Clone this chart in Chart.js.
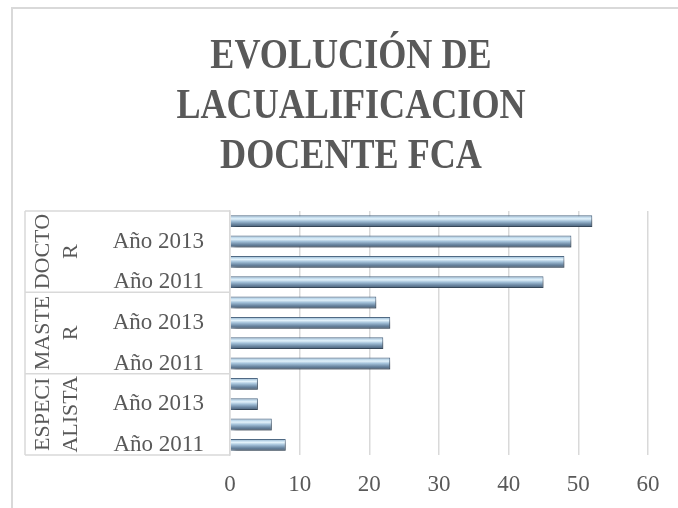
<!DOCTYPE html>
<html>
<head>
<meta charset="utf-8">
<script src="https://cdn.jsdelivr.net/npm/chart.js@4"></script>
<style>
html, body { margin: 0; padding: 0; overflow: hidden; background: #fff; }
#frame { position: absolute; left: 11px; top: 7px; width: 700px; height: 540px; border-left: 2px solid #d9d9d9; border-top: 2px solid #d9d9d9; }
#wrap { position: absolute; left: 0; top: 0; width: 678px; height: 508px; }
</style>
</head>
<body>
<div id="frame"></div>
<div id="wrap"><canvas id="chart1"></canvas></div>
<script>
var titulo = ['EVOLUCIÓN DE', 'LACUALIFICACION', 'DOCENTE FCA'];
var niveles = [['ESPECI', 'ALISTA'], ['MASTE', 'R'], ['DOCTO', 'R']];
var anios = ['Año 2011', 'Año 2012', 'Año 2013', 'Año 2014'];
var especialista = [8, 6, 4, 4];
var master = [23, 22, 23, 21];
var doctor = [45, 48, 49, 52];

var gris = '#595959';
var serif = "'Liberation Serif', 'Times New Roman', serif";

// one category per year and level, bottom to top
var labels = [];
anios.forEach(function (a) { labels.push(a); });
anios.forEach(function (a) { labels.push(a); });
anios.forEach(function (a) { labels.push(a); });
var valores = especialista.concat(master, doctor);

function barra(ctx) {
    var chart = ctx.chart;
    var y = chart.scales.y;
    if (!y || !chart.chartArea) return '#8fb0cc';
    var yc = y.getPixelForValue(ctx.dataIndex);
    var t = (chart.chartArea.height / labels.length) * 0.58;
    var g = chart.ctx.createLinearGradient(0, yc - t / 2, 0, yc + t / 2);
    g.addColorStop(0, '#6f8aa5');
    g.addColorStop(0.15, '#bcd7ea');
    g.addColorStop(0.3, '#e2f2fb');
    g.addColorStop(0.5, '#a3c1d9');
    g.addColorStop(0.75, '#6c88a3');
    g.addColorStop(1, '#465c73');
    return g;
}

var sombra = {
    id: 'sombra',
    beforeDatasetsDraw: function (chart) {
        var c = chart.ctx;
        c.save();
        c.shadowColor = 'rgba(0,0,0,0.35)';
        c.shadowBlur = 4;
        c.shadowOffsetX = 3;
        c.shadowOffsetY = 4;
    },
    afterDatasetsDraw: function (chart) {
        chart.ctx.restore();
    }
};

var tituloPlugin = {
    id: 'titulo',
    afterDraw: function (chart) {
        var c = chart.ctx;
        c.save();
        c.fillStyle = gris;
        c.font = 'bold 42px ' + serif;
        c.textAlign = 'center';
        c.textBaseline = 'alphabetic';
        titulo.forEach(function (linea, i) {
            c.save();
            c.translate(351, 68 + i * 50);
            c.scale(0.86, 1);
            c.fillText(linea, 0, 0);
            c.restore();
        });
        c.restore();
    }
};

var grupos = {
    id: 'grupos',
    afterDraw: function (chart) {
        var c = chart.ctx;
        var y = chart.scales.y;
        var area = chart.chartArea;
        var x0 = 25;
        c.save();
        c.strokeStyle = '#d9d9d9';
        c.lineWidth = 1.5;
        var cortes = [area.bottom];
        for (var g = 1; g < niveles.length; g++) {
            cortes.push((y.getPixelForValue(g * 4 - 1) + y.getPixelForValue(g * 4)) / 2);
        }
        cortes.push(area.top);
        c.beginPath();
        cortes.forEach(function (yy) {
            c.moveTo(x0, yy);
            c.lineTo(area.left, yy);
        });
        c.moveTo(x0, area.top);
        c.lineTo(x0, area.bottom);
        c.stroke();

        c.fillStyle = gris;
        c.font = '22px ' + serif;
        c.textAlign = 'center';
        c.textBaseline = 'middle';
        niveles.forEach(function (nivel, g) {
            var yc = (y.getPixelForValue(g * 4) + y.getPixelForValue(g * 4 + 3)) / 2;
            [42, 70].forEach(function (xx, k) {
                c.save();
                c.translate(xx, yc);
                c.rotate(-Math.PI / 2);
                c.fillText(nivel[k], 0, 1);
                c.restore();
            });
        });
        c.restore();
    }
};

var ctx1 = document.getElementById('chart1').getContext('2d');

var chart1 = new Chart(ctx1, {
    type: 'bar',
    data: {
        labels: labels,
        datasets: [{
            data: valores,
            backgroundColor: barra,
            borderColor: '#506a85',
            borderWidth: 1,
            barPercentage: 0.58,
            categoryPercentage: 1
        }]
    },
    options: {
        indexAxis: 'y',
        responsive: true,
        maintainAspectRatio: false,
        animation: false,
        layout: {
            padding: { top: 211, right: 30, bottom: 0, left: 0 }
        },
        plugins: {
            legend: { display: false },
            tooltip: { enabled: false }
        },
        scales: {
            x: {
                min: 0,
                max: 60,
                ticks: {
                    stepSize: 10,
                    color: gris,
                    padding: 16,
                    font: { family: serif, size: 23 }
                },
                grid: { color: '#d9d9d9', lineWidth: 1.5, drawTicks: false },
                border: { display: false },
                afterFit: function (scale) { scale.height = 53; }
            },
            y: {
                reverse: true,
                ticks: {
                    autoSkip: false,
                    color: gris,
                    padding: 26,
                    font: { family: serif, size: 23 },
                    callback: function (value, index) {
                        return index % 2 === 0 ? this.getLabelForValue(value) : '';
                    }
                },
                grid: { display: false, drawTicks: false },
                border: { display: true, color: '#d9d9d9', width: 1.5 },
                afterFit: function (scale) { scale.width = 230; }
            }
        }
    },
    plugins: [sombra, tituloPlugin, grupos]
});
</script>
</body>
</html>
